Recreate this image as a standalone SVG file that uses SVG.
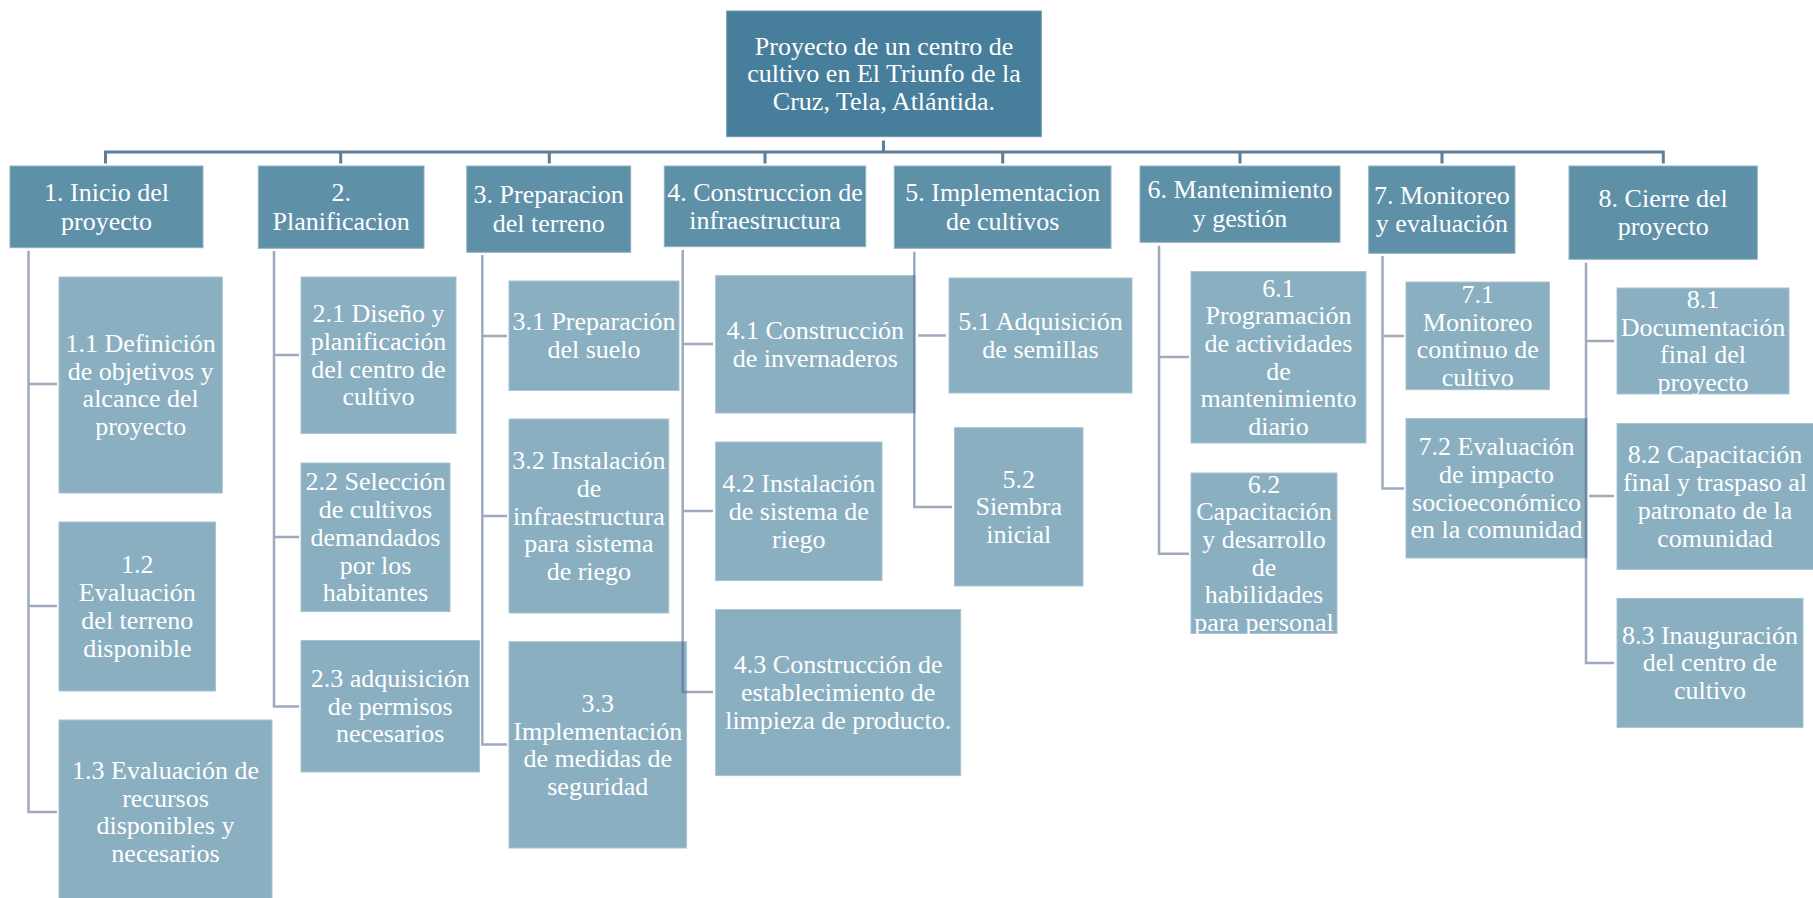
<svg xmlns="http://www.w3.org/2000/svg" width="1813" height="898" viewBox="0 0 1813 898">
<style>
text{font-family:"Liberation Serif","Times New Roman",serif;font-size:26px;fill:#ffffff;text-anchor:middle}
.root{fill:#467e9b;stroke:#6f9ab0;stroke-width:1}
.l1{fill:#5e90a8;stroke:#8fb3c4;stroke-width:1}
.l2{fill:#8aafc1;stroke:#a8c4d2;stroke-width:1}
.bar{fill:none;stroke:#5e7f9b;stroke-width:3}
.br{fill:none;stroke:#50648a;stroke-opacity:0.55;stroke-width:2.5}
</style>
<rect width="1813" height="898" fill="#ffffff"/>
<g id="root"><rect class="root" x="726.7" y="11" width="314.6" height="125.7"/>
<text x="884" y="54.9">Proyecto de un centro de</text><text x="884" y="82.4">cultivo en El Triunfo de la</text><text x="884" y="109.9">Cruz, Tela, Atlántida.</text></g>
<g id="n1"><rect class="l1" x="10" y="166" width="193" height="81.7"/><text x="106.5" y="201.1">1. Inicio del</text><text x="106.5" y="229.6">proyecto</text></g>
<g id="n2"><rect class="l1" x="258.3" y="166" width="165.7" height="82.3"/><text x="341.2" y="201.4">2.</text><text x="341.2" y="229.9">Planificacion</text></g>
<g id="n3"><rect class="l1" x="466.7" y="166" width="164" height="86.3"/><text x="548.7" y="203.4">3. Preparacion</text><text x="548.7" y="231.9">del terreno</text></g>
<g id="n4"><rect class="l1" x="664.3" y="166" width="201.4" height="80.7"/><text x="765" y="200.6">4. Construccion de</text><text x="765" y="229.1">infraestructura</text></g>
<g id="n5"><rect class="l1" x="894.3" y="166" width="216.7" height="82.3"/><text x="1002.7" y="201.4">5. Implementacion</text><text x="1002.7" y="229.9">de cultivos</text></g>
<g id="n6"><rect class="l1" x="1140" y="166" width="200" height="76.3"/><text x="1240" y="198.4">6. Mantenimiento</text><text x="1240" y="226.9">y gestión</text></g>
<g id="n7"><rect class="l1" x="1368.7" y="166" width="146.3" height="87.3"/><text x="1441.9" y="203.9">7. Monitoreo</text><text x="1441.9" y="232.4">y evaluación</text></g>
<g id="n8"><rect class="l1" x="1569" y="166" width="188.3" height="93.3"/><text x="1663.2" y="206.9">8. Cierre del</text><text x="1663.2" y="235.4">proyecto</text></g>

<g id="n1_1"><rect class="l2" x="59" y="277" width="163.3" height="216"/><text x="140.7" y="351.95">1.1 Definición</text><text x="140.7" y="379.65">de objetivos y</text><text x="140.7" y="407.35">alcance del</text><text x="140.7" y="435.05">proyecto</text></g>
<g id="n1_2"><rect class="l2" x="59" y="522" width="156.5" height="169"/><text x="137.3" y="573.45">1.2</text><text x="137.3" y="601.15">Evaluación</text><text x="137.3" y="628.85">del terreno</text><text x="137.3" y="656.55">disponible</text></g>
<g id="n1_3"><rect class="l2" x="59" y="720" width="213" height="184"/><text x="165.5" y="778.95">1.3 Evaluación de</text><text x="165.5" y="806.65">recursos</text><text x="165.5" y="834.35">disponibles y</text><text x="165.5" y="862.05">necesarios</text></g>
<g id="n2_1"><rect class="l2" x="301" y="277" width="155" height="156.5"/><text x="378.5" y="322.2">2.1 Diseño y</text><text x="378.5" y="349.9">planificación</text><text x="378.5" y="377.6">del centro de</text><text x="378.5" y="405.3">cultivo</text></g>
<g id="n2_2"><rect class="l2" x="301" y="463" width="149" height="148.6"/><text x="375.5" y="490.4">2.2 Selección</text><text x="375.5" y="518.1">de cultivos</text><text x="375.5" y="545.8">demandados</text><text x="375.5" y="573.5">por los</text><text x="375.5" y="601.2">habitantes</text></g>
<g id="n2_3"><rect class="l2" x="301" y="640.5" width="178.5" height="131.5"/><text x="390.25" y="687.05">2.3 adquisición</text><text x="390.25" y="714.75">de permisos</text><text x="390.25" y="742.45">necesarios</text></g>
<g id="n3_1"><rect class="l2" x="509" y="281" width="170" height="109.5"/><text x="594" y="330.4">3.1 Preparación</text><text x="594" y="358.1">del suelo</text></g>
<g id="n3_2"><rect class="l2" x="509" y="419" width="159.75" height="194"/><text x="588.9" y="469.1">3.2 Instalación</text><text x="588.9" y="496.8">de</text><text x="588.9" y="524.5">infraestructura</text><text x="588.9" y="552.2">para sistema</text><text x="588.9" y="579.9">de riego</text></g>
<g id="n3_3"><rect class="l2" x="509" y="641.7" width="177.6" height="206.3"/><text x="597.8" y="711.8">3.3</text><text x="597.8" y="739.5">Implementación</text><text x="597.8" y="767.2">de medidas de</text><text x="597.8" y="794.9">seguridad</text></g>
<g id="n4_1"><rect class="l2" x="715.6" y="275.6" width="199.4" height="137.4"/><text x="815.3" y="338.95">4.1 Construcción</text><text x="815.3" y="366.65">de invernaderos</text></g>
<g id="n4_2"><rect class="l2" x="715.6" y="442" width="166.4" height="138.6"/><text x="798.8" y="492.1">4.2 Instalación</text><text x="798.8" y="519.8">de sistema de</text><text x="798.8" y="547.5">riego</text></g>
<g id="n4_3"><rect class="l2" x="715.6" y="609.5" width="245.1" height="166.1"/><text x="838.15" y="673.35">4.3 Construcción de</text><text x="838.15" y="701.05">establecimiento de</text><text x="838.15" y="728.75">limpieza de producto.</text></g>
<g id="n5_1"><rect class="l2" x="949" y="278" width="183" height="115"/><text x="1040.5" y="330.15">5.1 Adquisición</text><text x="1040.5" y="357.85">de semillas</text></g>
<g id="n5_2"><rect class="l2" x="954.5" y="427.7" width="128.5" height="158.3"/><text x="1018.75" y="487.65">5.2</text><text x="1018.75" y="515.35">Siembra</text><text x="1018.75" y="543.05">inicial</text></g>
<g id="n6_1"><rect class="l2" x="1191" y="271.5" width="175" height="171.5"/><text x="1278.5" y="296.5">6.1</text><text x="1278.5" y="324.2">Programación</text><text x="1278.5" y="351.9">de actividades</text><text x="1278.5" y="379.6">de</text><text x="1278.5" y="407.3">mantenimiento</text><text x="1278.5" y="435">diario</text></g>
<g id="n6_2"><rect class="l2" x="1191" y="473" width="146" height="160.5"/><text x="1264" y="492.5">6.2</text><text x="1264" y="520.2">Capacitación</text><text x="1264" y="547.9">y desarrollo</text><text x="1264" y="575.6">de</text><text x="1264" y="603.3">habilidades</text><text x="1264" y="631">para personal</text></g>
<g id="n7_1"><rect class="l2" x="1406" y="282" width="143.5" height="107.7"/><text x="1477.75" y="302.8">7.1</text><text x="1477.75" y="330.5">Monitoreo</text><text x="1477.75" y="358.2">continuo de</text><text x="1477.75" y="385.9">cultivo</text></g>
<g id="n7_2"><rect class="l2" x="1406" y="418.6" width="181" height="139.4"/><text x="1496.5" y="455.25">7.2 Evaluación</text><text x="1496.5" y="482.95">de impacto</text><text x="1496.5" y="510.65">socioeconómico</text><text x="1496.5" y="538.35">en la comunidad</text></g>
<g id="n8_1"><rect class="l2" x="1617" y="288" width="172" height="106"/><text x="1703" y="307.95">8.1</text><text x="1703" y="335.65">Documentación</text><text x="1703" y="363.35">final del</text><text x="1703" y="391.05">proyecto</text></g>
<g id="n8_2"><rect class="l2" x="1617" y="423.5" width="200" height="145.9"/><text x="1715" y="463.4">8.2 Capacitación</text><text x="1715" y="491.1">final y traspaso al</text><text x="1715" y="518.8">patronato de la</text><text x="1715" y="546.5">comunidad</text></g>
<g id="n8_3"><rect class="l2" x="1617" y="598.4" width="186" height="129"/><text x="1710" y="643.7">8.3 Inauguración</text><text x="1710" y="671.4">del centro de</text><text x="1710" y="699.1">cultivo</text></g>

<g id="connectors">
<path class="bar" d="M883.5 140.5V152M105.5 163.5V152H1663.3V163.5M340.7 152V163.5M549.3 152V163.5M765 152V163.5M1002.7 152V163.5M1240 152V163.5M1442 152V163.5"/>
<path class="br" d="M28.5 250.7V812H57M28.5 384H57M28.5 606H57"/>
<path class="br" d="M274 251V706.6H299M274 355H299M274 537H299"/>
<path class="br" d="M482.3 255V744.6H507M482.3 336H507M482.3 516H507"/>
<path class="br" d="M682.7 250V692H713M682.7 344H713M682.7 511H713"/>
<path class="br" d="M914.3 251.7V507H952M918 335.5H946"/>
<path class="br" d="M1159 245.7V553.7H1189M1159 357H1189"/>
<path class="br" d="M1382.5 256V488.4H1404M1382.5 336H1404"/>
<path class="br" d="M1586 262.7V663H1614M1586 341H1614M1589 496H1614"/>
</g>
</svg>
